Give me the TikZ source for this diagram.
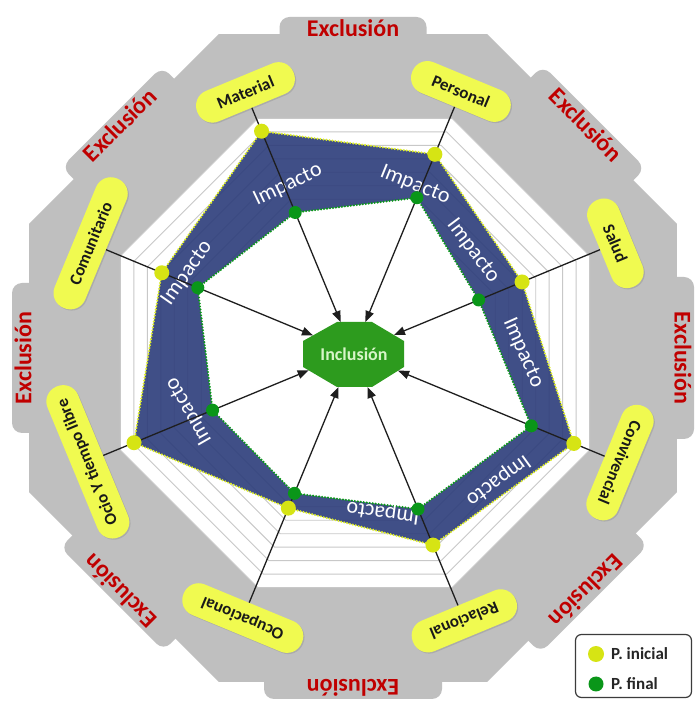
\documentclass[tikz,border=0pt]{standalone}
\usepackage{fontspec}
\setmainfont{Carlito}
\usetikzlibrary{arrows.meta,intersections,shadows,calc}
\definecolor{frameg}{RGB}{191,191,191}
\definecolor{gridl}{RGB}{200,200,200}
\definecolor{bandblue}{RGB}{44,60,122}
\definecolor{ydot}{RGB}{214,228,20}
\definecolor{yedge}{RGB}{222,238,40}
\definecolor{gdot}{RGB}{10,150,25}
\definecolor{pillfill}{RGB}{240,250,80}
\definecolor{exred}{RGB}{192,0,0}
\definecolor{incgreen}{RGB}{45,155,30}
\definecolor{inctext}{RGB}{215,245,200}
\definecolor{arrowc}{RGB}{30,30,30}
\definecolor{legline}{RGB}{60,60,60}
\begin{document}
\begin{tikzpicture}[x=1pt,y=1pt,
  pill/.style={fill=pillfill,rounded corners=16pt,minimum height=33pt,inner sep=0pt,
    font=\fontsize{17}{19}\selectfont\bfseries,text=black!90,
    drop shadow={opacity=0.3,shadow xshift=1.2pt,shadow yshift=-1.2pt}},
  excl/.style={font=\fontsize{24}{26}\selectfont\bfseries,text=exred,inner sep=0pt},
  imp/.style={font=\fontsize{22}{24}\selectfont,text=white,inner sep=0pt},
  arr/.style={draw=arrowc,line width=1.3pt,-{Triangle[length=11pt,width=8.5pt]}},
  ydotst/.style={circle,fill=ydot,minimum size=15pt,inner sep=0pt},
  gdotst/.style={circle,fill=gdot,minimum size=13pt,inner sep=0pt},
  gridst/.style={draw=gridl,line width=0.9pt},
  legtext/.style={font=\fontsize{17}{19}\selectfont\bfseries,text=black!85,anchor=west,inner sep=0pt},
]
\useasboundingbox (0,0) rectangle (694,702);
\fill[white] (0,0) rectangle (694,702);
% ---- gray frame
\begin{scope}[shift={(353,344)}]
  \fill[frameg] (22.5:350.7) foreach \a in {67.5,112.5,157.5,202.5,247.5,292.5,337.5} {-- (\a:350.7)} -- cycle;
  \foreach \ph/\L in {90/147,45/145,0/162,-45/152,-90/178,-135/146,180/150,135/142}
    \fill[frameg,rounded corners=10pt,rotate=\ph-90] (-\L/2,300) rectangle (\L/2,341);
  \foreach \ph [count=\i] in {90,45,0,-45,-90,-135,180,135}
    \node[excl,rotate=\ph-90] (ex\i) at (\ph:330) {Exclusión};
\end{scope}
% ---- grid
\begin{scope}[shift={(355,349)}]
  \fill[white] (22.5:254) foreach \a in {67.5,112.5,157.5,202.5,247.5,292.5,337.5} {-- (\a:254)} -- cycle;
  \foreach \k in {0,...,12}{
    \pgfmathsetmacro\R{254-14.6*\k}
    \draw[gridst] (22.5:\R) foreach \a in {67.5,112.5,157.5,202.5,247.5,292.5,337.5} {-- (\a:\R)} -- cycle;
  }
\end{scope}
% ---- data
\coordinate (C) at (353,350);
\foreach \n/\a/\ry/\rg in {sal/22.5/183/136, per/67.5/214/167, mat/112.5/239/151, com/157.5/207/168,
  oci/202.5/237/152, ocu/247.5/169/153, rel/292.5/209/170, con/337.5/239/193}{
  \coordinate (y\n) at ($(C)+(\a:\ry)$);
  \coordinate (g\n) at ($(C)+(\a:\rg)$);
}
\fill[bandblue,fill opacity=0.9] (ysal) -- (yper) -- (ymat) -- (ycom) -- (yoci) -- (yocu) -- (yrel) -- (ycon) -- cycle;
\draw[yedge,line width=2.3pt,dash pattern=on 0pt off 3pt,line cap=round] (ysal) -- (yper) -- (ymat) -- (ycom) -- (yoci) -- (yocu) -- (yrel) -- (ycon) -- cycle;
\fill[white] (gsal) -- (gper) -- (gmat) -- (gcom) -- (goci) -- (gocu) -- (grel) -- (gcon) -- cycle;
\draw[gdot,line width=2.3pt,dash pattern=on 0pt off 3pt,line cap=round] (gsal) -- (gper) -- (gmat) -- (gcom) -- (goci) -- (gocu) -- (grel) -- (gcon) -- cycle;
% ---- Impacto labels
\foreach \x/\y/\r [count=\i] in {288/517/25.6, 415/517/-22, 473/451/-53, 523/349/-66,
  498/222/-144, 383/190/172, 189/291/120, 187/429/55}
  \node[imp,rotate=\r] (imp\i) at (\x,\y) {Impacto};
% ---- Inclusion
\path[fill=incgreen,name path=incl] (337,380) -- (372,380) -- (404,361) -- (404,335) -- (372,315) -- (337,315) -- (303,335) -- (303,361) -- cycle;
\node[font=\fontsize{18}{20}\selectfont\bfseries,text=inctext,inner sep=0pt] (inc) at (354,348) {Inclusión};
% ---- pills
\foreach \n/\a/\rp/\w/\t in {sal/22.5/284/94/Salud, per/67.5/282/105/Personal, mat/112.5/281/104/Material,
  com/157.5/284/140/Comunitario, oci/202.5/287/163/Ocio Y tiempo libre, ocu/247.5/288/128/Ocupacional,
  rel/292.5/291/111/Relacional, con/337.5/289/122/Convivencial}
  \node[pill,minimum width=\w pt,rotate=\a-90] (p\n) at ($(C)+(\a:\rp)$) {\t};
% ---- arrows
\foreach \n/\a in {sal/22.5, per/67.5, mat/112.5, com/157.5, oci/202.5, ocu/247.5, rel/292.5, con/337.5}{
  \path[name path=ax] (C) -- ($(C)+(\a:150)$);
  \path[name intersections={of=incl and ax,by={tip\n}}];
  \draw[arr] (p\n) -- (tip\n);
}
% ---- dots
\foreach \n in {sal,per,mat,com,oci,ocu,rel,con}{
  \node[ydotst] (dy\n) at (y\n) {};
  \node[gdotst] (dg\n) at (g\n) {};
}
% ---- legend
\node[draw=legline,line width=1.2pt,fill=white,rounded corners=6pt,minimum width=116pt,minimum height=63pt] (leg) at (633.5,36) {};
\node[ydotst,minimum size=16pt] (ly) at (596,48) {};
\node[legtext] (lt1) at (611,48) {P. inicial};
\node[gdotst,minimum size=15pt] (lg) at (596,18) {};
\node[legtext] (lt2) at (611,18) {P. final};
\end{tikzpicture}
\end{document}
